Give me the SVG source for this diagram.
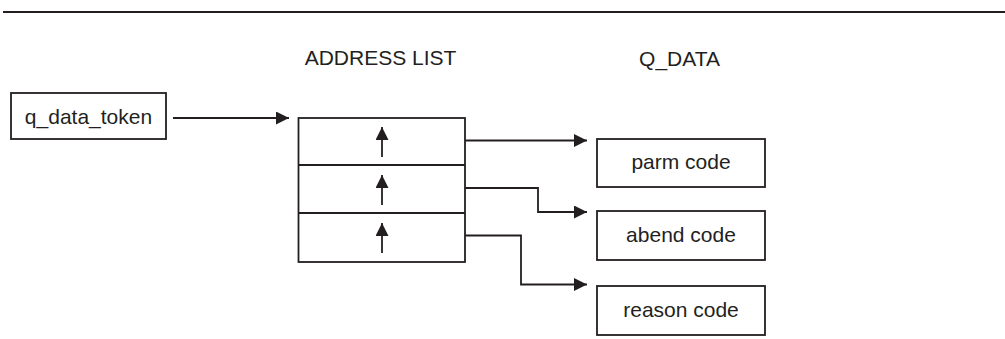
<svg xmlns="http://www.w3.org/2000/svg" width="1005" height="339" viewBox="0 0 1005 339">
<style>
.box{fill:#fff;stroke:#231f20;stroke-width:1.8}
.ln{fill:none;stroke:#231f20;stroke-width:1.8}
text{font-family:"Liberation Sans",Arial,sans-serif;font-size:21px;fill:#231f20;text-anchor:middle}
</style>
<defs>
<marker id="ah" markerWidth="13" markerHeight="13" refX="13" refY="6.5" orient="auto" markerUnits="userSpaceOnUse">
<path d="M0,0 L13,6.5 L0,13 Z" fill="#231f20"/>
</marker>
</defs>
<rect width="1005" height="339" fill="#fff"/>
<line x1="3" y1="12" x2="1005" y2="12" stroke="#231f20" stroke-width="1.8"/>
<text x="380.5" y="65">ADDRESS LIST</text>
<text x="679.5" y="66">Q_DATA</text>
<g id="q_data_token">
<rect class="box" x="11" y="93" width="155" height="46"/>
<text x="88.5" y="124">q_data_token</text>
</g>
<g id="address_list">
<rect class="box" x="298.5" y="118" width="166.5" height="144"/>
<line class="ln" x1="298.5" y1="165" x2="465" y2="165"/>
<line class="ln" x1="298.5" y1="213" x2="465" y2="213"/>
<line class="ln" x1="382" y1="157" x2="382" y2="127" marker-end="url(#ah)"/>
<line class="ln" x1="382" y1="205" x2="382" y2="175" marker-end="url(#ah)"/>
<line class="ln" x1="382" y1="253" x2="382" y2="223" marker-end="url(#ah)"/>
</g>
<g id="parm_code">
<rect class="box" x="597" y="139" width="168" height="48"/>
<text x="681" y="169">parm code</text>
</g>
<g id="abend_code">
<rect class="box" x="597" y="211" width="168" height="49"/>
<text x="681" y="242">abend code</text>
</g>
<g id="reason_code">
<rect class="box" x="597" y="286" width="168" height="49"/>
<text x="681" y="317">reason code</text>
</g>
<g id="connectors">
<path class="ln" d="M173,118 H289" marker-end="url(#ah)"/>
<path class="ln" d="M465,140.5 H587" marker-end="url(#ah)"/>
<path class="ln" d="M465,188 H538 V212 H587" marker-end="url(#ah)"/>
<path class="ln" d="M465,235.5 H521 V284.5 H587" marker-end="url(#ah)"/>
</g>
</svg>
